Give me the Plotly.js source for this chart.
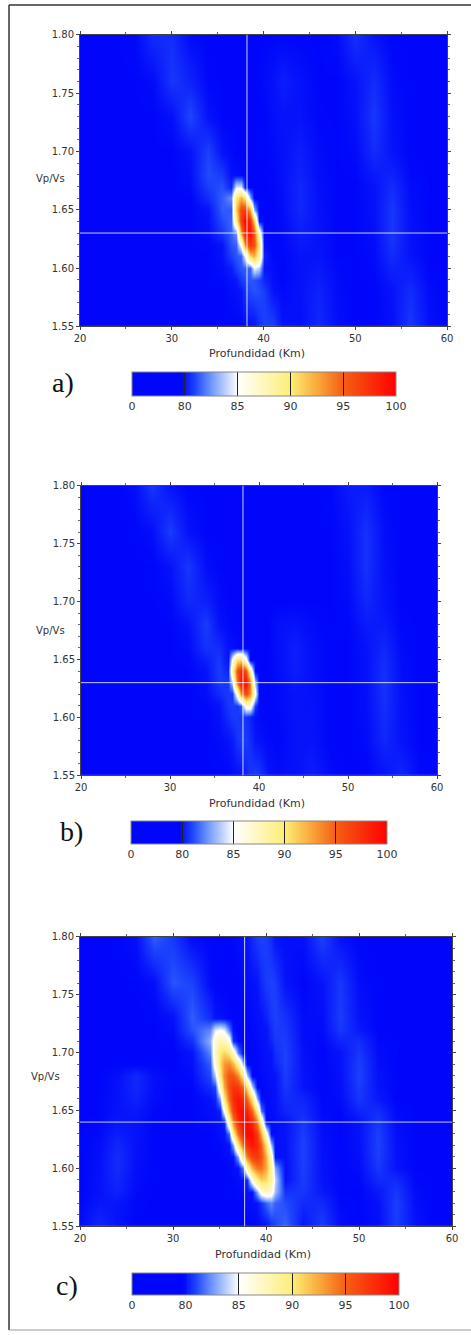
<!DOCTYPE html>
<html><head><meta charset="utf-8">
<script src="https://cdn.plot.ly/plotly-3.0.1.min.js"></script>
<style>html,body{margin:0;padding:0;background:#fff;overflow:hidden;}#chart{width:471px;height:1335px;}</style>
</head><body><div id="chart"></div>
<script>
// ---- shared scales ----
const levels = [0, 80, 85, 90, 95, 100];
const levelLabels = ['0', '80', '85', '90', '95', '100'];
const xTickVals = [20, 30, 40, 50, 60];
const yTickVals = [1.55, 1.60, 1.65, 1.70, 1.75, 1.80];
const panelLabels = ['a)', 'b)', 'c)'];
const bestX = [38.2, 38.2, 37.7];
const bestY = [1.63, 1.63, 1.64];

// ---- panel a: fit (%) on depth (km) x Vp/Vs grid ----
const xA = [20,22,24,26,28,30,32,34,35.5,36.5,37,37.5,38,38.5,39,39.5,40,41,42,44,46,48,50,52,54,56,58,60];
const yA = [1.55,1.58,1.59,1.60,1.61,1.62,1.63,1.64,1.65,1.66,1.67,1.68,1.70,1.73,1.76,1.80];
const zA = [
 [76,76,76,76,76,76,76,76,76,76,76,77,78.2,79.2,80,80.55,80.9,80.9,80,78.6,80.4,78.6,76,76,78.9,80.7,78.9,76],
 [76,76,76,76,76,76,76,76,76,78.2,79.2,80.05,80.65,81.05,81.2,81.1,80.8,79.6,77.4,79.4,80.3,77.6,76,76,79.8,80.5,77.7,76],
 [76,76,76,76,76,76,76,76,77,79.3,80.1,80.75,81.1,81.3,81.2,80.9,80.4,78.7,76,79.5,80.2,77.4,76,76.4,80.15,80.3,76.9,76],
 [76,76,76,76,76,76,76,76,78.2,80.2,80.85,81.3,81.5,81.5,84.8,83.8,80,78,76,79.75,80.1,76.9,76,77.3,80.3,80.15,76.4,76],
 [76,76,76,76,76,76,76,76,79.3,80.85,81.3,81.5,84.9,91,92.2,88.7,80.3,76.6,76.4,80,80,76,76,77.4,80.5,79.9,76,76],
 [76,76,76,76,76,76,76,76.6,80,81.2,81.5,85.4,93.7,97.1,95.8,89.6,78.7,76,76.9,80.1,79.8,76,76,77.9,80.6,79.7,76,76],
 [76,76,76,76,76,76,76,78,80.7,81.5,82.5,92.9,98.6,99.4,95.5,86.8,77,76,77.1,80.2,79.6,76,76,78.5,80.7,79.2,76,76],
 [76,76,76,76,76,76,76,78.9,81.1,81.5,88.9,96.7,99.7,97.8,91.2,79.8,76,76,77.6,80.3,79.4,76,76,78.9,80.7,78.9,76,76],
 [76,76,76,76,76,76,76,79.9,81.4,81.3,91.2,96.4,96.8,92.4,83.2,76,76,76,78,80.4,79.1,76,76,79.2,80.7,78.5,76,76],
 [76,76,76,76,76,76,76,80.5,81.4,82.4,89.75,92.3,90.1,83.1,76,76,76,76,78.3,80.4,79,76,76,79.5,80.6,78.1,76,76],
 [76,76,76,76,76,76,77.25,80.85,81.2,80.3,84.4,84.4,79.6,76,76,76,76,76.4,78.7,80.4,78.6,76,76,79.8,80.5,77.7,76,76],
 [76,76,76,76,76,76,78.4,81.1,80.75,79.4,78.4,77.2,76,76,76,76,76,76.8,78.8,80.3,78.1,76,76.4,80.15,80.3,76.9,76,76],
 [76,76,76,76,76,76,79.85,80.9,79.4,77.2,76,76,76,76,76,76,76,77.5,79.3,80.2,77.5,76,77.4,80.5,79.9,76,76,76],
 [76,76,76,76,76,78.8,81,79.5,76,76,76,76,76,76,76,76,76,78.5,79.85,79.85,76.3,76,78.9,80.7,78.9,76,76,76],
 [76,76,76,76,77.5,80.7,80.3,76.5,76,76,76,76,76,76,76,76,77.5,79.3,80.2,79.3,76,76,79.8,80.5,77.7,76,76,76],
 [76,76,76,77,80.5,80.5,77,76,76,76,76,76,76,76,76,76,76,76,76,76,76,77.9,80.6,79.7,76,76,76,76]
];

// ---- panel b ----
const xB = [20,22,24,26,28,30,32,34,35.5,36.5,37,37.5,38,38.5,39,39.5,40,41,42,44,46,48,50,52,54,56,58,60];
const yB = [1.55,1.58,1.60,1.61,1.62,1.63,1.64,1.65,1.66,1.68,1.70,1.73,1.76,1.80];
const zB = [
 [76,76,76,76,76,76,76,76,76,76.8,78,79,79.8,80.35,80.7,80.8,80.7,79.8,78,79.3,80.2,77.5,76,76,79.9,80.35,77.2,76],
 [76,76,76,76,76,76,76,76,77.5,79.5,80.15,80.6,80.8,80.75,80.5,80.05,79.35,77.3,76,79.65,80,76,76,77.3,80.4,79.85,76,76],
 [76,76,76,76,76,76,76,76,79.35,80.5,80.75,80.8,80.6,80.6,80.3,78.6,77.5,76,76.5,79.9,79.75,76,76,78,80.5,79.45,76,76],
 [76,76,76,76,76,76,76,77,79.9,80.7,80.8,80.65,81.3,86.35,86.1,80.7,77.5,76,77,79.9,79.4,76,76,78.2,80.55,79.3,76,76],
 [76,76,76,76,76,76,76,78.2,80.45,80.8,80.65,85.9,93.6,96.1,93.4,85.5,77.5,76,77.2,80,79.2,76,76,78.6,80.6,79,76,76],
 [76,76,76,76,76,76,76,79,80.7,80.7,83.6,94,99.2,99.2,94,83.6,77,76,77.5,80.1,79,76,76,79,80.6,78.6,76,76],
 [76,76,76,76,76,76,76,79.8,80.8,80.35,87.6,95.6,98.3,95.8,88.1,77,76,76,77.9,80.2,78.9,76,76,79.3,80.55,78.2,76,76],
 [76,76,76,76,76,76,76.5,80.25,80.7,79.9,85,90.4,90.6,85.6,76,76,76,76,78.2,80.2,78.6,76,76,79.6,80.5,77.8,76,76],
 [76,76,76,76,76,76,77.5,80.6,80.5,79.3,78.4,77.3,76,76,76,76,76,76,78.4,80.2,78.4,76,76,79.85,80.4,77.3,76,76],
 [76,76,76,76,76,76,79.3,80.8,79.5,77.5,76.2,76,76,76,76,76,76,76,78.95,80,77.5,76,76.5,80.15,80.15,76.5,76,76],
 [76,76,76,76,76,77,80.45,80.25,77.8,76,76,76,76,76,76,76,76,76,76,76,76,76,77.3,80.4,79.85,76,76,76],
 [76,76,76,76,76,79.65,80.7,78.2,76,76,76,76,76,76,76,76,76,76,76,76,76,76,78.4,80.6,79.1,76,76,76],
 [76,76,76,76,78.4,80.8,79.5,76,76,76,76,76,76,76,76,76,76,76,76,76,76,76,79.3,80.6,78.2,76,76,76],
 [76,76,76,78,80.7,79.8,76,76,76,76,76,76,76,76,76,76,76,76,76,76,76,76.5,80.15,80.15,76.5,76,76,76]
];

// ---- panel c ----
const xC = [20,22,24,26,28,30,32,34,34.5,35,35.5,36,36.5,37,37.5,38,38.5,39,39.5,40,40.5,41,42,44,46,48,50,52,54,56,58,60];
const yC = [1.55,1.57,1.58,1.59,1.60,1.61,1.62,1.63,1.64,1.65,1.66,1.67,1.68,1.69,1.70,1.71,1.72,1.73,1.76,1.80];
const zC = [
 [77.6,80.4,79.5,76,76,76,76,76,76,76,76,76,76,76,76,76,76,77.7,78.8,79.7,80.5,81,81.5,80.05,80.8,78.1,76,78.1,80.8,79.9,76,76],
 [76.4,80.05,80.05,76.4,76,76,76,76,76,76,76,76,76,76,76,77.9,79,79.9,80.6,81.5,82.2,81.5,81.1,80.45,80.45,76.85,76,79.6,80.85,78.5,76,76],
 [76,79.65,80.3,77.2,76,76,76,76,76,76,76,76,76,76.6,78,79,79.9,82.9,86,87.1,86.2,83.4,80.6,80.7,80.1,76,76,80.1,80.7,77.6,76,76],
 [76,79.35,80.4,77.9,76,76,76,76,76,76,76,76,76.9,78.1,79.2,80.5,86,89.5,91.1,90.7,88.35,84,79.7,80.8,79.9,76,76.85,80.45,80.45,76.85,76,76],
 [76,79,80.5,78.4,76,76,76,76,76,76,76,76.9,78.1,79.2,82.2,88.2,92.3,94.3,94.4,92.5,88.6,82.8,78.8,80.85,79.6,76,77.9,80.7,80,76,76,76],
 [76,78.5,80.5,79.1,76,76,76,76,76,76.3,77.3,78.1,79.2,82.9,89.4,93.9,96.5,97.1,95.7,92.3,87,80,79.1,80.9,79.1,76,78.5,80.85,79.6,76,76,76],
 [76,77.9,80.4,79.3,76,76,76,76,76.5,77.1,78.4,79.4,82.8,89.8,94.8,97.8,98.9,98,95.1,90.3,83.4,78.5,79.5,80.9,78.7,76,79.1,80.9,79.1,76,76,76],
 [76,77.1,80.2,79.7,76,76,76,76,77,78.4,79.4,81.7,89.2,94.7,98.2,99.7,99.3,96.9,92.5,86.2,78,78,79.75,80.8,78.3,76,79.6,80.85,78.5,76,76,76],
 [76,76.6,80.05,79.9,76,76,76,77.4,78.5,79.6,80.3,87.8,93.7,97.7,99.7,99.8,97.8,93.9,88.1,78,77.1,78.3,80,80.7,77.9,76,80,80.7,77.9,76,76,76],
 [76,76,79.75,80.1,76.9,76,76,78.6,79.6,80.3,85.5,92,96.5,99,99.55,98.1,94.7,89.4,82,77,77.9,78.9,80.35,80.5,77.1,76.6,80.35,80.5,77.1,76,76,76],
 [76,76,79.4,80.3,77.6,76,76,79.6,80.3,82.9,89.8,94.8,97.8,98.8,97.85,94.9,90,83.2,77,77.1,78.3,79.3,80.5,80.35,76.6,77.6,80.7,80.1,76,76,76,76],
 [76,76,79.1,80.4,78.4,76,76.3,80.5,81,87,92.5,95.9,97.4,97,94.5,90.1,83.7,77,76.6,77.9,78.9,79.75,80.7,80,76,78.3,80.8,79.75,76,76,76,76],
 [76,76,78.6,80.4,78.6,76,77.7,81,83.7,89.6,93.6,95.55,95.55,93.6,89.6,83.7,77,76,77.1,78.3,79.3,80,80.8,79.75,76,78.9,80.9,79.3,76,76,76,76],
 [76,76,76,76,76,76,79,81.4,86.2,90.65,93.1,93.6,92.2,88.75,83.35,77,76,76.6,77.9,78.9,79.75,80.35,80.9,79.3,76,79.6,80.85,78.5,76,76,76,76],
 [76,76,76,76,76,76,79.9,82.1,87.05,90,91,90,87.05,82.1,77,76,76,77.1,78.3,79.3,80,80.5,80.9,78.9,76,80,80.7,77.9,76,76,76,76],
 [76,76,76,76,76,76.6,80.6,83.05,86.5,87.9,87.4,86,80.5,77,76,76,76.6,77.9,78.9,79.75,80.35,80.7,80.8,78.3,76.6,80.35,80.5,77.1,76,76,76,76],
 [76,76,76,76,76,78.1,81.2,82.2,84.5,85,84.5,82,78,76,76,76,77.1,78.3,79.3,80,80.5,80.8,80.7,77.9,77.6,80.7,80.1,76,76,76,76,76],
 [76,76,76,76,76,79.2,81.4,80.5,79.7,78.8,77.7,76.3,76,76,76,76.3,77.6,78.7,79.6,80.25,80.7,80.9,80.6,77.4,78.3,80.8,79.75,76,76,76,76,76],
 [76,76,76,76,78.4,81.25,80.9,77.4,76,76,76,76,76,76,76.85,78.1,79.1,79.9,80.45,80.8,80.9,80.8,79.9,76,80,80.7,77.9,76,76,76,76,76],
 [76,76,76,78.8,81.4,80.7,76.9,76,76,76,76,76,76.85,78.1,79.1,79.9,80.45,80.8,80.9,80.8,80.45,79.9,78.1,79.1,80.9,79.1,76,76,76,76,76,76]
];

// piecewise map of the fit value onto the equal-width colour-bar classes
function toClass(v) {
  for (let i = 0; i < levels.length - 1; i++) {
    if (v <= levels[i + 1]) return i + (v - levels[i]) / (levels[i + 1] - levels[i]);
  }
  return levels.length - 1;
}
const nClass = levels.length - 1;
const colorscale = [
  [0, 'rgb(0,6,250)'],
  [0.19, 'rgb(0,6,250)'],
  [0.24, 'rgb(30,70,252)'],
  [0.3, 'rgb(110,150,255)'],
  [0.4, 'rgb(255,255,255)'],
  [0.6, 'rgb(253,238,120)'],
  [0.7, 'rgb(250,170,60)'],
  [0.8, 'rgb(245,95,20)'],
  [1, 'rgb(255,0,0)']
];

const W = 471, H = 1335;
const FONT = 'DejaVu Sans, Verdana, sans-serif';
const panels = [
  {x: xA, y: yA, z: zA, dom: {x0: 80, x1: 447, y0: 35, y1: 327}, cb: {x0: 132, x1: 396, top: 373, th: 24}, vpvs: {x: 67, y: 179}, xt: {x: 257, y: 354}, lab: {x: 63, y: 383}},
  {x: xB, y: yB, z: zB, dom: {x0: 81, x1: 437, y0: 487, y1: 777}, cb: {x0: 131, x1: 387, top: 823, th: 23}, vpvs: {x: 67, y: 632}, xt: {x: 257, y: 805}, lab: {x: 71, y: 833}},
  {x: xC, y: yC, z: zC, dom: {x0: 80, x1: 452, y0: 939, y1: 1229}, cb: {x0: 132, x1: 399, top: 1276, th: 22}, vpvs: {x: 62, y: 1079}, xt: {x: 263, y: 1257}, lab: {x: 67, y: 1288}}
];

const data = [];
const layout = {
  width: W, height: H, margin: {l: 0, r: 0, t: 0, b: 0},
  paper_bgcolor: '#fff', plot_bgcolor: '#fff',
  font: {family: FONT, color: '#333', size: 10},
  showlegend: false, shapes: [], annotations: []
};

panels.forEach((p, i) => {
  const s = i === 0 ? '' : String(i + 1);
  data.push({
    type: 'heatmap', x: p.x, y: p.y, z: p.z.map(r => r.map(toClass)),
    xaxis: 'x' + s, yaxis: 'y' + s, zmin: 0, zmax: nClass, zsmooth: 'best',
    colorscale: colorscale, hoverinfo: 'skip',
    colorbar: {
      orientation: 'h', xref: 'paper', yref: 'paper',
      x: p.cb.x0 / W, xanchor: 'left', y: 1 - p.cb.top / H, yanchor: 'top',
      len: p.cb.x1 - p.cb.x0, lenmode: 'pixels', thickness: p.cb.th, thicknessmode: 'pixels',
      xpad: 0, ypad: 0, outlinewidth: 1, outlinecolor: '#888', borderwidth: 0,
      tickmode: 'array', tickvals: levels.map((_, k) => k), ticktext: levelLabels,
      ticks: 'inside', ticklen: p.cb.th, tickwidth: 1, tickcolor: '#222',
      tickfont: {family: FONT, size: 11, color: '#333'}
    }
  });
  const axCommon = {
    showgrid: false, zeroline: false, showline: true, linecolor: '#444', linewidth: 1,
    mirror: 'ticks', ticks: 'outside', ticklen: 3, tickwidth: 1, tickcolor: '#444',
    tickfont: {family: FONT, size: 10, color: '#333'}, fixedrange: true
  };
  layout['xaxis' + s] = Object.assign({}, axCommon, {
    domain: [p.dom.x0 / W, p.dom.x1 / W], anchor: 'y' + s, range: [20, 60],
    tickmode: 'array', tickvals: xTickVals,
    minor: {dtick: 5, tick0: 20, ticks: 'outside', ticklen: 2, tickcolor: '#666', showgrid: false}
  });
  layout['yaxis' + s] = Object.assign({}, axCommon, {
    domain: [1 - p.dom.y1 / H, 1 - p.dom.y0 / H], anchor: 'x' + s, range: [1.55, 1.80],
    tickmode: 'array', tickvals: yTickVals, tickformat: '.2f',
    minor: {dtick: 0.01, tick0: 1.55, ticks: 'outside', ticklen: 2, tickcolor: '#666', showgrid: false}
  });
  // best-fit crosshair
  layout.shapes.push({type: 'line', xref: 'x' + s, yref: 'y' + s + ' domain', x0: bestX[i], x1: bestX[i], y0: 0, y1: 1,
    line: {color: 'rgba(255,255,255,0.8)', width: 1}});
  layout.shapes.push({type: 'line', xref: 'x' + s + ' domain', yref: 'y' + s, x0: 0, x1: 1, y0: bestY[i], y1: bestY[i],
    line: {color: 'rgba(255,255,255,0.8)', width: 1}});
  layout.annotations.push({text: 'Vp/Vs', xref: 'paper', yref: 'paper', x: p.vpvs.x / W, y: 1 - p.vpvs.y / H,
    xanchor: 'right', yanchor: 'middle', showarrow: false, font: {family: FONT, size: 10, color: '#333'}});
  layout.annotations.push({text: 'Profundidad (Km)', xref: 'paper', yref: 'paper', x: p.xt.x / W, y: 1 - p.xt.y / H,
    xanchor: 'center', yanchor: 'middle', showarrow: false, font: {family: FONT, size: 11, color: '#333'}});
  layout.annotations.push({text: panelLabels[i], xref: 'paper', yref: 'paper', x: p.lab.x / W, y: 1 - p.lab.y / H,
    xanchor: 'center', yanchor: 'middle', showarrow: false, font: {family: 'Liberation Serif, serif', size: 28, color: '#111'}});
});

// page frame: top, left and bottom edges (the right edge lies outside the picture)
const fx0 = 9 / W, fyTop = 1 - 5 / H, fyBot = 1 - 1333 / H;
const frameLine = {color: '#333', width: 1.5};
layout.shapes.push({type: 'line', xref: 'paper', yref: 'paper', x0: fx0, x1: 1, y0: fyTop, y1: fyTop, line: frameLine});
layout.shapes.push({type: 'line', xref: 'paper', yref: 'paper', x0: fx0, x1: fx0, y0: fyBot, y1: fyTop, line: frameLine});
layout.shapes.push({type: 'line', xref: 'paper', yref: 'paper', x0: fx0, x1: 1, y0: fyBot, y1: fyBot, line: {color: '#999', width: 1}});

Plotly.newPlot('chart', data, layout, {staticPlot: true, displayModeBar: false});
</script>
</body></html>
